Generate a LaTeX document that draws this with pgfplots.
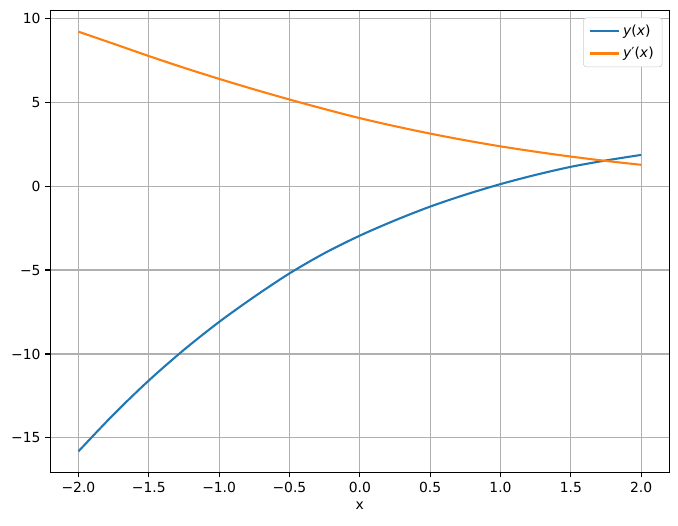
\documentclass[border=0pt]{standalone}
\usepackage{pgfplots}
\pgfplotsset{compat=1.18}
\usepackage{fontspec}
\setmainfont{DejaVu Sans}
\definecolor{mplblue}{HTML}{1F77B4}
\definecolor{mplorange}{HTML}{FF7F0E}
\definecolor{gridgray}{HTML}{B0B0B0}
\definecolor{legendedge}{HTML}{CCCCCC}

\begin{document}
\begin{tikzpicture}
\begin{axis}[
    scale only axis,
    width=445.7pt, height=332.4pt,
    xmin=-2.2, xmax=2.2, ymin=-17.05, ymax=10.45,
    xtick={-2,-1.5,-1,-0.5,0,0.5,1,1.5,2},
    xticklabels={−2.0,−1.5,−1.0,−0.5,0.0,0.5,1.0,1.5,2.0},
    ytick={-15,-10,-5,0,5,10},
    yticklabels={−15,−10,−5,0,5,10},
    tick pos=left,
    tick align=outside,
    major tick length=3.5pt,
    tick style={black, line width=0.8pt},
    axis line style={line width=0.8pt},
    grid=major,
    grid style={gridgray, line width=0.8pt},
    font=\fontsize{10}{12}\selectfont,
    xlabel={x},
    legend cell align=left,
    legend style={at={(1,1)}, anchor=north east, xshift=-5pt, yshift=-5pt,
        draw=legendedge, rounded corners=2pt, font=\fontsize{10}{12}\selectfont,
        row sep=3pt, inner xsep=4pt, inner ysep=3pt},
    legend image code/.code={\draw[#1] (0pt,0pt) -- (21pt,0pt);},
    after end axis/.code={\path (rel axis cs:-0.0813,-0.1142) rectangle (rel axis cs:1.0141,1.0232);},
]
\addplot[mplblue, line width=1.5pt, smooth] coordinates {
    (-2.00,-15.80) (-1.75,-13.60) (-1.50,-11.58) (-1.25,-9.75) (-1.00,-8.09)
    (-0.75,-6.59) (-0.50,-5.20) (-0.25,-3.99) (0.00,-2.95) (0.25,-2.04)
    (0.50,-1.22) (0.75,-0.51) (1.00,0.12) (1.25,0.67) (1.50,1.15)
    (1.75,1.53) (2.00,1.86)
};
\addplot[mplorange, line width=1.5pt, smooth] coordinates {
    (-2.00,9.20) (-1.75,8.48) (-1.50,7.75) (-1.25,7.05) (-1.00,6.39)
    (-0.75,5.76) (-0.50,5.16) (-0.25,4.59) (0.00,4.05) (0.25,3.57)
    (0.50,3.13) (0.75,2.73) (1.00,2.37) (1.25,2.05) (1.50,1.76)
    (1.75,1.50) (2.00,1.27)
};
\legend{\textit{y}(\textit{x}), \textit{y}′(\textit{x})}
\end{axis}
\end{tikzpicture}
\end{document}
